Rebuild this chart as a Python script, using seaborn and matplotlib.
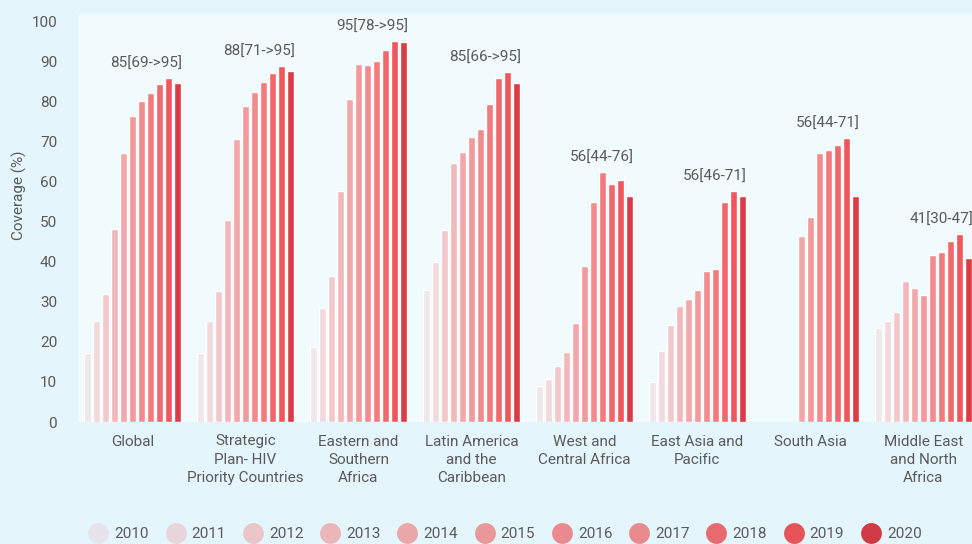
import matplotlib
matplotlib.use("Agg")
import matplotlib.pyplot as plt
import seaborn as sns
import pandas as pd
import numpy as np
from matplotlib.lines import Line2D

# ---------------- data ----------------
regions = ["Global", "Strategic\nPlan- HIV\nPriority Countries", "Eastern and\nSouthern\nAfrica",
           "Latin America\nand the\nCaribbean", "West and\nCentral Africa", "East Asia and\nPacific",
           "South Asia", "Middle East\nand North\nAfrica"]
years = [str(y) for y in range(2010, 2021)]

global_vals = [17.3, 25.2, 31.9, 48.1, 67.1, 76.3, 80.0, 82.1, 84.4, 85.8, 84.6]
priority_vals = [17.3, 25.2, 32.7, 50.4, 70.7, 78.9, 82.4, 84.9, 87.1, 88.9, 87.6]
esa_vals = [18.8, 28.5, 36.5, 57.7, 80.6, 89.4, 89.1, 90.1, 92.8, 95.1, 94.8]
lac_vals = [33.0, 40.0, 48.0, 64.7, 67.4, 71.1, 73.1, 79.4, 85.9, 87.4, 84.6]
wca_vals = [9.1, 10.6, 14.0, 17.5, 24.8, 39.0, 54.9, 62.4, 59.4, 60.4, 56.4]
eap_vals = [10.1, 17.8, 24.3, 29.0, 30.7, 33.0, 37.7, 38.2, 54.9, 57.7, 56.4]
sa_vals = [np.nan, np.nan, np.nan, np.nan, 46.5, 51.2, 67.2, 67.9, 69.2, 70.9, 56.4]
mena_vals = [23.5, 25.3, 27.5, 35.2, 33.5, 31.7, 41.7, 42.5, 45.2, 47.0, 41.0]

series = [global_vals, priority_vals, esa_vals, lac_vals, wca_vals, eap_vals, sa_vals, mena_vals]
annotations = ["85[69->95]", "88[71->95]", "95[78->95]", "85[66->95]",
               "56[44-76]", "56[46-71]", "56[44-71]", "41[30-47]"]

colors = ["#efe7eb", "#f2d9dd", "#f3c8cb", "#f2b7ba", "#f2a7aa", "#f1999b",
          "#f28b8e", "#f27b7e", "#f0686c", "#ef575c", "#da3c47"]
legend_colors = ["#e6e4ea", "#e8d5db", "#eac6ca", "#eab6b8", "#e9a7a9", "#e8979a",
                 "#e88a8e", "#e88a8e", "#e66a6e", "#e65358", "#d03a45"]

rows = []
for reg, vals in zip(regions, series):
    for yr, v in zip(years, vals):
        rows.append({"region": reg, "year": yr, "value": v})
df = pd.DataFrame(rows)

# ---------------- style ----------------
outer_bg = "#e4f5fc"
inner_bg = "#f1fafd"
text_col = "#5a5a5a"
fs = 11

sns.set_theme(style="white")
plt.rcParams['font.family'] = ['Roboto', 'DejaVu Sans']

fig = plt.figure(figsize=(9.72, 5.44), dpi=100, facecolor=outer_bg)
ax = fig.add_axes([78 / 972, 122 / 544, 894 / 972, 408 / 544])
ax.set_facecolor(inner_bg)

width = 0.876
sns.barplot(data=df, x="region", y="value", hue="year", hue_order=years, order=regions,
            palette=colors, width=width, gap=0.2, saturation=1, errorbar=None,
            legend=False, ax=ax)

ax.set_xlim(-0.482, 7.43)
ax.set_ylim(0, 101.75)
ax.set_yticks(range(0, 101, 10))
for s in ax.spines.values():
    s.set_visible(False)
ax.tick_params(axis="y", length=0, pad=15, labelsize=fs, labelcolor=text_col)
ax.tick_params(axis="x", length=0, pad=9, labelsize=fs, labelcolor=text_col)
ax.set_xticks(range(len(regions)))
ax.set_xticklabels(regions, linespacing=1.38)
ax.set_xlabel("")
ax.set_ylabel("Coverage (%)", fontsize=fs, color=text_col)
ax.yaxis.set_label_coords(-0.057, 0.556)

for i, (lab, vals) in enumerate(zip(annotations, series)):
    top = np.nanmax(vals)
    ax.annotate(lab, xy=(i + width / 2, top), xytext=(0, 5), textcoords="offset points",
                ha="right", va="bottom", fontsize=fs, color=text_col,
                annotation_clip=False)

handles = [Line2D([0], [0], marker="o", linestyle="", markersize=15,
                  markerfacecolor=c, markeredgecolor="none") for c in legend_colors]
fig.legend(handles, years, loc="center", bbox_to_anchor=(0.52, 0.018), ncol=11,
           frameon=False, handletextpad=0.45, columnspacing=1.15, handlelength=1.2,
           fontsize=fs, labelcolor=text_col)

fig.savefig("out.png", dpi=100, facecolor=fig.get_facecolor())
